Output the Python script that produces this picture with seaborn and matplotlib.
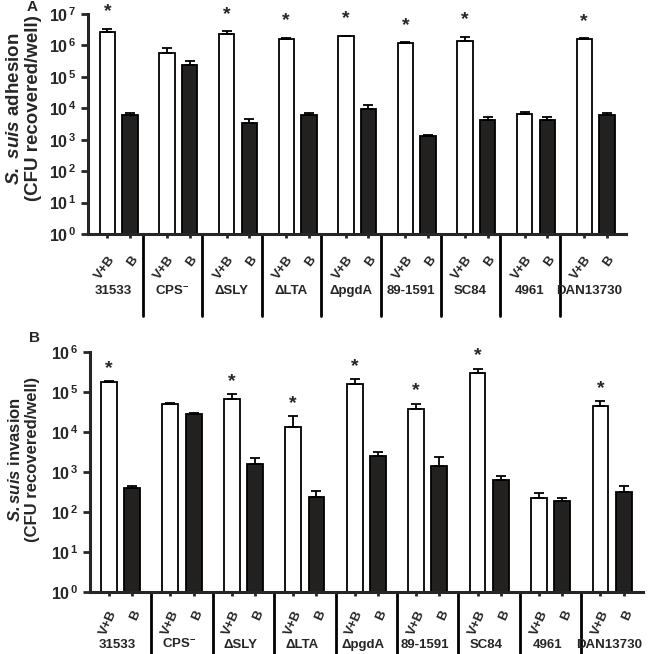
import numpy as np
import pandas as pd
import matplotlib
matplotlib.use('Agg')
import matplotlib.pyplot as plt
import matplotlib.transforms as mtransforms
import seaborn as sns

# Strains and treatments
strains = ['31533', 'CPS', 'SLY', 'LTA', 'pgdA', '89-1591', 'SC84', '4961', 'DAN13730']
strain_labels = ['31533', r'CPS$^{\mathbf{-}}$', '\u0394SLY', '\u0394LTA', '\u0394pgdA',
                 '89-1591', 'SC84', '4961', 'DAN13730']
treatments = ['V+B', 'B']

# Panel A: adhesion (CFU recovered/well)
adh_vb = [2.7e6, 5.6e5, 2.3e6, 1.6e6, 1.9e6, 1.15e6, 1.4e6, 6.5e3, 1.55e6]
adh_vb_err = [6e5, 2.3e5, 5e5, 1.1e5, 1.3e5, 8e4, 4.8e5, 800, 1.1e5]
adh_b = [5.9e3, 2.4e5, 3.4e3, 5.9e3, 9.3e3, 1.3e3, 4.2e3, 4.3e3, 5.9e3]
adh_b_err = [1.3e3, 8e4, 1.05e3, 1.3e3, 3.2e3, 150, 900, 800, 1.1e3]
adh_sig = [True, False, True, True, True, True, True, False, True]

# Panel B: invasion (CFU recovered/well)
inv_vb = [1.73e5, 4.9e4, 6.7e4, 1.35e4, 1.56e5, 3.7e4, 2.9e5, 220, 4.4e4]
inv_vb_err = [1e4, 5e3, 2.1e4, 1.1e4, 4.8e4, 1.4e4, 9e4, 80, 1.5e4]
inv_b = [390, 2.75e4, 1.55e3, 235, 2.5e3, 1.4e3, 630, 182, 322]
inv_b_err = [65, 1.6e3, 680, 90, 700, 900, 175, 42, 130]
inv_sig = [True, False, True, True, True, True, True, False, True]

sns.set_style('ticks')
plt.rcParams['font.family'] = ['Liberation Sans', 'DejaVu Sans']
plt.rcParams['font.weight'] = 'bold'
plt.rcParams['mathtext.fontset'] = 'custom'
plt.rcParams['mathtext.rm'] = 'Liberation Sans:bold'
plt.rcParams['mathtext.bf'] = 'Liberation Sans:bold'
plt.rcParams['mathtext.it'] = 'Liberation Sans:italic:bold'
if 'mathtext.bfit' in plt.rcParams:
    plt.rcParams['mathtext.bfit'] = 'Liberation Sans:italic:bold'


def draw_panel(ax, vb, vb_err, b, b_err, sig, top_exp, ylabel, letter, xlim,
               sep_shift, sep_depth, label_shift, label_y, ylabel_pos, ylabel_size,
               star_off, tick_pad, tick_rot):
    df = pd.DataFrame({
        'strain': strains * 2,
        'treatment': ['V+B'] * len(strains) + ['B'] * len(strains),
        'cfu': vb + b,
    })
    sns.barplot(data=df, x='strain', y='cfu', hue='treatment', order=strains,
                hue_order=treatments, palette={'V+B': 'white', 'B': '#231f20'},
                edgecolor='black', linewidth=1.3, width=0.76, gap=0.32,
                errorbar=None, legend=False, log_scale=True, ax=ax)

    vb_bars = sorted([p for p in ax.patches if p.get_facecolor()[0] > 0.5], key=lambda p: p.get_x())
    b_bars = sorted([p for p in ax.patches if p.get_facecolor()[0] <= 0.5], key=lambda p: p.get_x())
    vb_x = [p.get_x() + p.get_width() / 2 for p in vb_bars]
    b_x = [p.get_x() + p.get_width() / 2 for p in b_bars]

    # upper error bars only
    for xs, ys, es in [(vb_x, vb, vb_err), (b_x, b, b_err)]:
        ax.errorbar(xs, ys, yerr=[np.zeros(len(es)), es], fmt='none', ecolor='black',
                    elinewidth=1.3, capsize=3.5, capthick=1.3, zorder=1)

    # significance stars
    for x, y, e, s in zip(vb_x, vb, vb_err, sig):
        if s:
            ax.annotate('*', xy=(x, y + e), xytext=(0, star_off), textcoords='offset points',
                        ha='center', va='bottom', fontsize=14, fontweight='bold')

    ax.set_yscale('log')
    ax.set_ylim(1, 10 ** top_exp)
    ax.set_xlim(*xlim)
    exps = list(range(0, top_exp + 1))
    ax.set_yticks([10 ** e for e in exps])
    ax.set_yticklabels([r'$\mathbf{10^{\,%d}}$' % e for e in exps], fontsize=11.5)
    ax.minorticks_off()

    ticks = sorted(vb_x + b_x)
    ax.set_xticks(ticks)
    ax.set_xticklabels(['V+B', 'B'] * len(strains), rotation=tick_rot, ha='right',
                       rotation_mode='anchor', fontsize=9.5, fontweight='bold')
    ax.tick_params(axis='x', length=3, width=2, pad=tick_pad)
    ax.tick_params(axis='y', length=5, width=2, pad=3)
    ax.set_xlabel('')
    ax.set_ylabel('')
    for side in ['top', 'right']:
        ax.spines[side].set_visible(False)
    ax.spines['left'].set_linewidth(2.2)
    ax.spines['bottom'].set_linewidth(2.2)

    trans = mtransforms.blended_transform_factory(ax.transData, ax.transAxes)
    for k in range(1, len(strains)):
        xs = k + sep_shift
        ax.plot([xs, xs], [0, -sep_depth], transform=trans, color='black',
                lw=2, clip_on=False)
    for k, lab in enumerate(strain_labels):
        ax.text(k + label_shift, label_y, lab, transform=trans, ha='center', va='center',
                fontsize=9.5, fontweight='bold')

    ax.text(ylabel_pos[0], ylabel_pos[1], ylabel, transform=ax.transAxes, rotation=90,
            ha='center', va='center', multialignment='center', fontsize=ylabel_size,
            fontweight='bold', linespacing=1.15)
    ax.figure.text(letter[1], letter[2], letter[0], ha='center', va='center',
                   fontsize=11, fontweight='bold')


fig = plt.figure(figsize=(6.5, 6.54), dpi=100)
ax_a = fig.add_axes([0.135, 0.642, 0.828, 0.337])
ax_b = fig.add_axes([0.138, 0.095, 0.851, 0.367])

draw_panel(ax_a, adh_vb, adh_vb_err, adh_b, adh_b_err, adh_sig, 7,
           r'$\mathbfit{S.\ suis}$ adhesion' + '\n(CFU recovered/well)',
           ('A', 32 / 650, 1 - 7 / 654), (-0.52, 8.51),
           -0.6, 0.37, -0.1, -0.26, (-0.118, 0.57), 13.5, 6, 11, 54)
draw_panel(ax_b, inv_vb, inv_vb_err, inv_b, inv_b_err, inv_sig, 6,
           r'$\mathbfit{S.suis}$ invasion' + '\n(CFU recovered/well)',
           ('B', 35 / 650, 1 - 338 / 654), (-0.5, 8.5),
           -0.5, 0.27, -0.05, -0.22, (-0.12, 0.55), 12, 3, 9, 66)

fig.savefig('out.png', dpi=100)
